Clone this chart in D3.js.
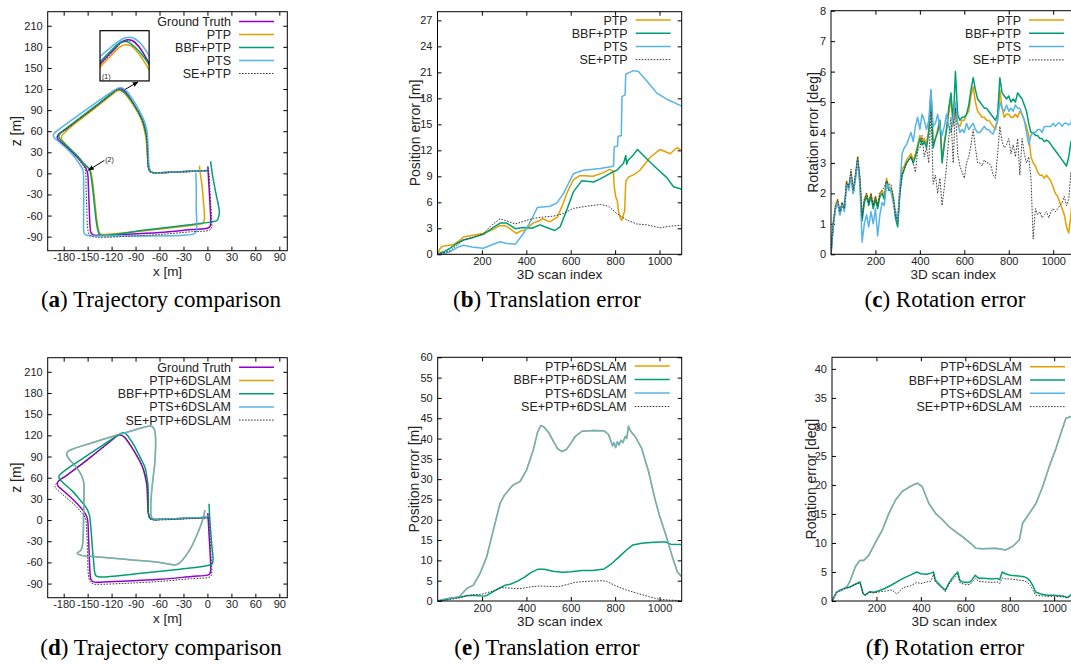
<!DOCTYPE html>
<html>
<head>
<meta charset="utf-8">
<script src="https://cdn.jsdelivr.net/npm/d3@7"></script>
<style>
  body { margin: 0; background: #fff; }
  text { font-family: "Liberation Sans", Arial, Helvetica, sans-serif; fill: #222; }
  .cap { font-family: "Liberation Serif", "Times New Roman", serif; fill: #000; }
</style>
</head>
<body>
<script>
// ---------- data ----------
// trajectories [x, z] in metres
var gtPath = [[1,4],[-20,3],[-40,2],[-60,1],[-68,1],[-72,3],[-74,10],[-75,30],[-76,50],[-78,62],[-81,74],[-85,84],[-90,94],[-96,105],[-100,112],[-104,117.5],[-107,120],[-110,120.5],[-113,119.5],[-118,115],[-125,108.5],[-140,95],[-160,77],[-178,62],[-186,56],[-188,52],[-187,48],[-182,43],[-172,33],[-163,23],[-156,14],[-152,7],[-150,0],[-149,-20],[-148,-50],[-147,-75],[-146,-84],[-143,-87.5],[-135,-88],[-100,-86.5],[-60,-84],[-20,-80],[0,-78],[3,-76],[4,-72],[3.5,-50],[2,-20],[1,0],[0.5,10]];
var ptpPath = [[1,4],[-20,3],[-40,2],[-60,1],[-68,1],[-72,3],[-74,10],[-75.5,30],[-77,50],[-79,62],[-82,74],[-86,84],[-91,94],[-97,104],[-101,110],[-105,115],[-108,117.5],[-111,118],[-114,117],[-119,112.5],[-125,107],[-140,93.5],[-160,76],[-176,61],[-182,54],[-183,50],[-181,46],[-172,35],[-162,24],[-154,13],[-147,5],[-144,-10],[-141,-40],[-138,-70],[-136,-82],[-134,-86.5],[-128,-87],[-90,-83],[-50,-78],[-15,-73],[-6,-71],[-4,-67],[-5,-40],[-7,-15],[-9,0],[-10,11]];
var bbfPath = [[1,4],[-20,3],[-40,2],[-60,1],[-68,1],[-72,3],[-74,10],[-75,30],[-76,50],[-78,62],[-81,74],[-85,84],[-90,94],[-96,105],[-101,112],[-106,117],[-110,119.5],[-114,119],[-119,115],[-125,109.5],[-140,96],[-160,78.5],[-178,63],[-185,56],[-186,52],[-184,48],[-174,37],[-163,25],[-155,14],[-148,6],[-145,-10],[-142,-40],[-139,-70],[-137,-82],[-135,-87],[-128,-88],[-80,-81],[-30,-74],[5,-69],[12,-67],[14,-62],[15,-55],[10,-25],[6,0],[4,17]];
var ptsPath = [[1,4],[-20,3],[-40,2],[-60,1],[-68,1],[-71,3],[-73,10],[-74,30],[-75,50],[-76,62],[-79,74],[-83,84],[-88,95],[-94,106],[-99,114],[-103,119],[-107,121.5],[-111,121.5],[-115,119.5],[-120,116],[-127,110.5],[-145,96],[-165,80],[-183,65],[-191,58],[-193,55],[-192,51],[-187,46],[-176,35],[-167,24],[-160,13],[-156,5],[-155,-20],[-155,-60],[-155,-80],[-154,-86],[-150,-88.5],[-130,-89],[-80,-89],[-30,-88],[-17,-86],[-14,-82],[-14,-50],[-14,-20],[-14.5,1]];
var sePath = [[1,4],[-20,3],[-40,2],[-60,1],[-68,1],[-72,3],[-74,10],[-75,30],[-76,50],[-78,62],[-81,74],[-85,84],[-90,94],[-96,105],[-100,112],[-104,117],[-107,119.5],[-110,120],[-113,119],[-118,114.5],[-125,108],[-140,94.5],[-160,77.5],[-178,62.5],[-186,56.5],[-188,52.5],[-187,48.5],[-183,44],[-172,33],[-162,21.5],[-157,13],[-153,5],[-152,-20],[-151,-50],[-150,-78],[-148,-87],[-144,-90],[-135,-91],[-100,-89.5],[-60,-87],[-20,-83],[2,-81],[5,-78],[5.5,-72],[4.5,-50],[3,-20],[2,0],[1,8]];

var bbf6Path = [[1,4],[-20,3],[-40,2],[-60,1],[-68,1],[-72,3],[-74,10],[-74,30],[-74.5,50],[-76,62],[-78,74],[-82,84],[-87,95],[-92,106],[-97,115],[-101,121],[-104,123.5],[-107,123.5],[-111,121],[-130,107],[-155,88],[-175,73],[-183,66],[-186,62],[-185,58],[-179,51],[-169,41],[-160,29],[-152,18],[-148,8],[-146,-10],[-144,-40],[-142,-65],[-141,-75],[-139,-79.5],[-130,-80.5],[-80,-75],[-30,-69],[2,-64],[6,-62],[7,-57],[5,-30],[3,0],[2,23]];
var pts6Path = [[1,4],[-20,3],[-40,2],[-60,1],[-67,1],[-70,4],[-71,20],[-69,50],[-66,80],[-65,100],[-65,118],[-66,127],[-69,132.5],[-74,133],[-90,128],[-120,118],[-150,107.5],[-170,100],[-175,97],[-176,92],[-173,86],[-165,76],[-158,64],[-155,54],[-154.5,40],[-155,10],[-155.5,-20],[-156.5,-36],[-158.5,-43],[-163,-47],[-158,-50],[-140,-52],[-100,-56],[-60,-60],[-45,-63],[-40,-63.5],[-35,-61],[-28,-52],[-20,-38],[-12,-18],[-6,0],[-3,14]];
var ptp6Path = pts6Path;   // PTP+6DSLAM lies under PTS+6DSLAM
var se6Path = [[1,3],[-20,2],[-40,1],[-60,0],[-68,0],[-72,2],[-74,9],[-74.5,30],[-75.5,50],[-77.5,62],[-80.5,74],[-84.5,84],[-89.5,94],[-95.5,105],[-100,112],[-104,117],[-107,119.5],[-110,120],[-113,119],[-118,114.5],[-125,108],[-140,94],[-160,76.5],[-180,60],[-189,52],[-191,48],[-189,44],[-178,33],[-166,21],[-158,11],[-153,3],[-151,-20],[-150,-50],[-149,-78],[-147,-87],[-143,-90.5],[-135,-91],[-100,-89.5],[-60,-87],[-20,-83],[2,-81],[5,-78],[5.5,-72],[4.5,-50],[3,-20],[2,0],[1,6]];

// translation error [scan index, m]
var ptpTrans = [[0,0],[10,0.6],[20,0.9],[35,1.0],[70,1.1],[100,1.6],[117,2.0],[160,2.2],[205,2.4],[245,2.8],[280,3.3],[305,3.3],[325,3.0],[355,2.4],[375,2.7],[395,2.8],[430,3.6],[460,3.9],[475,4.1],[505,3.75],[540,4.3],[560,5.5],[585,7.2],[612,8.6],[642,9.1],[700,9.0],[745,9.4],[775,9.8],[792,9.6],[796,7.8],[803,6.6],[810,6.2],[815,5.0],[822,4.3],[830,3.9],[838,4.6],[843,5.0],[848,8.4],[860,8.9],[885,9.2],[912,9.7],[958,11.2],[1003,12.1],[1048,11.6],[1078,12.3],[1100,12.0]];
var bbfTrans = [[0,0],[15,0.2],[30,0.3],[57,0.7],[90,1.3],[117,1.65],[162,1.95],[207,2.3],[245,3.0],[282,3.6],[312,3.6],[350,2.95],[387,3.1],[425,3.0],[462,3.4],[500,3.0],[530,2.75],[553,3.2],[582,5.1],[612,7.2],[650,8.5],[703,8.35],[733,8.7],[778,9.35],[808,9.7],[838,10.5],[848,11.4],[852,10.4],[857,10.8],[883,11.5],[901,12.1],[943,11.0],[988,9.9],[1033,8.85],[1063,7.8],[1100,7.5]];
var ptsTrans = [[0,0],[27,0.05],[57,0.3],[90,0.8],[117,1.05],[162,0.8],[207,0.7],[245,1.1],[282,1.45],[312,1.25],[350,1.15],[387,2.4],[425,4.1],[450,5.4],[507,5.55],[537,5.9],[567,7.0],[612,9.3],[657,9.7],[733,9.9],[793,10.15],[796,12.4],[811,12.5],[813,13.6],[828,13.7],[831,18.2],[845,18.4],[848,20.8],[883,21.2],[905,21.1],[943,20.0],[988,18.6],[1033,17.9],[1100,17.1]];
var seTrans = [[0,0],[57,0.4],[117,1.65],[162,2.0],[207,2.4],[245,3.4],[282,4.1],[312,3.85],[350,3.5],[387,3.8],[432,4.15],[477,4.3],[522,4.4],[567,4.7],[612,5.3],[672,5.55],[733,5.75],[770,5.55],[808,4.7],[853,3.95],[898,3.5],[943,3.4],[1003,3.05],[1048,3.25],[1100,3.35]];

// rotation error [deg], one value every 10 scans from scan 0
var ptpRot = [0.0,1.0,1.6,1.8,1.4,1.7,1.5,2.4,2.2,2.7,2.1,2.6,3.2,2.5,1.2,1.8,2.0,1.7,2.0,1.6,1.9,1.6,2.0,2.1,1.9,2.5,2.2,2.2,1.9,1.4,1.0,2.1,2.8,2.9,3.1,3.2,3.3,3.1,3.3,3.6,3.9,3.7,3.8,3.6,4.1,5.4,3.6,3.8,4.1,4.4,3.1,3.7,4.1,4.6,5.1,4.2,4.9,4.3,4.2,4.4,4.4,4.6,4.7,5.2,5.5,5.0,4.7,4.6,4.5,4.5,4.4,4.4,4.3,4.2,4.1,4.4,5.4,4.8,4.5,4.6,4.6,4.5,4.5,4.6,4.5,4.7,4.6,4.4,4.2,3.9,3.2,3.0,2.9,2.7,2.6,2.6,2.5,2.6,2.5,2.4,2.2,2.0,1.9,1.7,1.5,1.3,0.9,0.7,1.3,2.3];
var bbfRot = [0.0,1.0,1.5,1.7,1.3,1.6,1.5,2.3,2.2,2.6,2.0,2.5,3.1,2.4,1.1,1.7,1.9,1.6,1.9,1.5,1.8,1.5,1.9,2.0,1.8,2.4,2.1,2.1,1.8,1.2,0.9,2.0,2.6,2.8,3.0,3.1,3.2,3.0,3.2,3.5,3.8,3.6,3.7,3.5,4.0,5.3,3.5,3.8,4.0,4.4,3.0,3.6,4.1,4.8,5.3,4.3,6.0,4.6,4.4,4.5,4.5,4.6,4.9,5.4,5.8,5.4,5.1,5.0,4.9,4.8,4.8,4.7,4.6,4.5,4.4,4.6,5.8,5.3,5.2,5.1,5.2,5.0,5.1,5.0,5.3,5.2,5.1,4.9,4.7,4.3,4.0,4.0,3.9,3.9,3.8,3.8,3.7,3.75,3.7,3.6,3.5,3.4,3.3,3.2,3.1,3.0,2.9,3.2,3.7,3.8];
var ptsRot = [0.0,0.9,1.5,1.7,1.3,1.7,1.4,2.3,2.1,2.6,2.0,2.5,3.1,2.3,0.4,1.0,1.3,0.9,1.4,1.0,1.5,0.6,1.3,1.7,1.6,2.3,2.2,2.1,1.7,1.4,1.1,2.2,3.3,3.5,3.6,3.8,4.0,3.7,4.2,4.5,4.1,4.6,4.4,4.1,4.4,5.4,4.2,4.3,4.6,4.2,3.9,4.2,4.6,4.2,4.0,4.5,5.0,4.3,4.0,4.1,4.0,4.3,4.1,4.2,4.3,4.1,4.0,4.0,4.1,4.2,4.1,4.1,4.0,3.95,4.2,4.4,5.0,4.8,4.7,4.9,4.7,4.8,4.7,4.9,4.8,4.8,4.6,4.4,4.0,3.6,3.9,4.0,4.0,4.1,4.1,4.0,4.2,4.2,4.2,4.2,4.3,4.2,4.3,4.3,4.2,4.3,4.3,4.25,4.3,4.8];
var seRot = [0.0,1.0,1.6,1.8,1.4,1.7,1.5,2.4,2.2,2.8,2.1,2.6,3.2,2.5,1.2,1.8,2.0,1.7,2.0,1.6,1.9,1.6,2.0,2.1,2.2,2.4,2.3,2.3,1.9,1.3,1.1,2.0,2.6,2.8,3.0,3.1,3.2,3.0,2.7,3.4,3.5,3.9,3.2,3.5,3.0,4.7,2.3,2.6,2.0,2.5,1.6,2.2,2.9,3.8,4.5,3.0,4.8,3.3,2.9,2.7,2.5,3.0,3.2,3.6,4.1,3.5,3.0,3.0,2.9,3.1,3.0,3.0,2.9,2.6,2.5,3.3,4.2,3.7,3.5,3.6,3.8,3.3,3.6,3.2,3.8,2.6,3.8,3.3,3.0,3.2,2.5,0.5,1.5,1.3,1.4,1.2,1.3,1.4,1.2,1.4,1.5,1.4,1.5,1.6,1.7,1.9,1.6,1.8,2.7,1.7];
var rotIndex = d3.range(0, 1100, 10);

// translation error with 6D SLAM [scan index, m]
var pts6Trans = [[0,0],[26,0.4],[56,0.7],[86,0.9],[100,1.2],[131,3.1],[161,3.9],[191,6.8],[221,10.9],[251,17.5],[281,24],[300,26],[320,27.3],[341,28.6],[371,29.4],[401,32.3],[431,37.2],[450,41.5],[465,43.2],[480,42.8],[500,41.5],[520,39.5],[540,37.5],[560,36.8],[580,37.3],[600,38.8],[620,40.5],[650,41.8],[700,42],[750,41.9],[770,41],[780,39.5],[788,38.2],[795,39],[802,37.8],[810,39.2],[818,38.4],[826,39.6],[835,39],[845,40.5],[852,40],[860,43],[870,41.8],[890,40.5],[920,37.5],[950,32],[980,25],[1000,21],[1030,16],[1060,10.5],[1080,7.2],[1100,6]];
var ptp6Trans = pts6Trans;
var bbf6Trans = [[0,0],[30,0.3],[60,0.7],[100,0.9],[130,1.3],[160,1.4],[200,1.2],[220,1.3],[250,2.3],[280,3.2],[300,3.8],[330,4.2],[360,4.9],[390,5.8],[420,7.0],[450,7.8],[480,7.8],[520,7.3],[560,7.1],[600,7.2],[650,7.5],[700,7.5],[750,7.9],[780,9.0],[820,11.0],[850,12.5],[880,13.8],[920,14.2],[960,14.4],[1000,14.5],[1030,14.5],[1050,14.0],[1100,13.9]];
var se6Trans = [[0,0],[50,0.3],[100,0.8],[130,1.3],[160,1.5],[200,1.7],[240,2.3],[280,3.2],[300,3.3],[340,3.1],[380,3.1],[420,3.5],[460,3.7],[500,3.6],[540,3.5],[580,4.0],[620,4.6],[660,4.8],[700,4.9],[740,5.0],[760,4.9],[800,3.8],[850,2.7],[900,1.9],[950,1.1],[1000,0.4],[1050,0.2],[1100,0.1]];

// rotation error with 6D SLAM [scan index, deg]
var pts6Rot = [[0,0],[23,1.6],[45,1.9],[68,2.5],[83,3.6],[105,5.9],[125,7.0],[143,7.0],[166,7.9],[196,10.1],[226,12.2],[256,15.1],[286,17.4],[316,18.9],[346,19.6],[370,20.1],[384,20.3],[406,19.7],[436,16.8],[466,15.1],[497,14.0],[527,12.8],[557,11.9],[587,11.1],[625,9.9],[647,9.1],[677,9.0],[737,9.1],[783,8.8],[813,9.4],[843,10.5],[858,13.4],[888,15.1],[918,16.8],[948,19.7],[978,23.2],[1008,26.3],[1038,29.8],[1053,31.5],[1076,31.8],[1100,31.8]];
var ptp6Rot = pts6Rot;
var bbf6Rot = [[0,0],[20,1.5],[36,1.85],[60,2.2],[81,2.4],[100,2.8],[126,3.3],[140,1.3],[149,1.0],[170,1.6],[190,1.5],[217,1.85],[240,2.2],[270,2.8],[292,3.3],[320,3.9],[352,4.45],[382,5.0],[400,4.7],[427,4.6],[445,4.8],[457,5.0],[465,3.6],[472,3.3],[490,2.6],[510,1.85],[525,3.0],[540,3.9],[556,4.6],[566,5.0],[575,3.6],[585,3.3],[610,3.2],[623,3.3],[645,4.45],[660,3.9],[683,3.9],[720,3.8],[743,3.9],[755,3.7],[766,5.0],[780,4.7],[803,4.45],[840,4.3],[864,4.2],[880,3.9],[894,3.3],[906,2.5],[916,1.55],[940,1.2],[969,1.0],[1000,1.0],[1044,0.8],[1060,0.6],[1074,1.0],[1090,1.4]];
var se6Rot = [[0,0],[20,1.5],[36,1.8],[60,2.2],[81,2.4],[100,2.8],[126,3.1],[140,1.3],[149,1.0],[170,1.5],[190,1.4],[217,1.6],[240,1.7],[270,1.9],[292,1.2],[320,2.3],[352,2.6],[382,3.2],[400,3.0],[427,3.3],[445,3.4],[457,4.6],[465,3.3],[472,3.0],[490,2.4],[510,1.6],[525,2.8],[540,3.5],[556,4.2],[566,4.6],[575,3.2],[585,3.0],[610,2.8],[623,2.9],[645,3.9],[660,3.4],[683,3.3],[720,3.2],[743,3.3],[755,3.0],[766,4.0],[780,3.8],[803,3.8],[840,3.6],[864,3.5],[880,3.2],[894,2.6],[906,1.8],[916,1.0],[940,0.9],[969,0.8],[1000,0.8],[1044,0.7],[1060,0.5],[1074,0.9],[1090,1.2]];

// legends, ticks, captions
var legTrajTop = ["Ground Truth", "PTP", "BBF+PTP", "PTS", "SE+PTP"];
var legErrTop = ["PTP", "BBF+PTP", "PTS", "SE+PTP"];
var legTrajBot = ["Ground Truth", "PTP+6DSLAM", "BBF+PTP+6DSLAM", "PTS+6DSLAM", "SE+PTP+6DSLAM"];
var legErrBot = ["PTP+6DSLAM", "BBF+PTP+6DSLAM", "PTS+6DSLAM", "SE+PTP+6DSLAM"];
var trajXTicks = [-180,-150,-120,-90,-60,-30,0,30,60,90];
var trajZTicks = [-90,-60,-30,0,30,60,90,120,150,180,210];
var scanTicks = [200,400,600,800,1000];
var captions = [["a","Trajectory comparison"],["b","Translation error"],["c","Rotation error"],
                ["d","Trajectory comparison"],["e","Translation error"],["f","Rotation error"]];

// ---------- styles ----------
var st = {
  gt:  {color: "#9400d3", w: 1.5},
  ptp: {color: "#e69f00", w: 1.5},
  bbf: {color: "#009e73", w: 1.5},
  pts: {color: "#56b4e9", w: 1.5},
  se:  {color: "#3a3a3a", w: 1, dash: "1.6,1.4"}
};

var svg = d3.select("body").append("svg").attr("width", 1071).attr("height", 664);

svg.append("defs").append("marker")
    .attr("id", "arrow").attr("viewBox", "0 0 10 10")
    .attr("refX", 9).attr("refY", 5).attr("markerWidth", 6).attr("markerHeight", 6)
    .attr("orient", "auto")
  .append("path").attr("d", "M0,1L10,5L0,9z").attr("fill", "#000");

var nPanel = 0;
function makePanel(box, xDom, yDom, xTicks, yTicks) {
  var id = "clip" + (nPanel++);
  var x = d3.scaleLinear().domain(xDom).range([box.x0, box.x1]);
  var y = d3.scaleLinear().domain(yDom).range([box.y1, box.y0]);
  var g = svg.append("g");
  svg.select("defs").append("clipPath").attr("id", id).append("rect")
      .attr("x", box.x0).attr("y", box.y0)
      .attr("width", box.x1 - box.x0).attr("height", box.y1 - box.y0);
  var fmt = function(d) { return String(d); };
  g.append("g").attr("transform", "translate(0," + box.y1 + ")")
      .call(d3.axisBottom(x).tickValues(xTicks).tickSize(-4).tickPadding(3).tickFormat(fmt));
  g.append("g").attr("transform", "translate(0," + box.y0 + ")")
      .call(d3.axisTop(x).tickValues(xTicks).tickSize(-4).tickFormat(""));
  g.append("g").attr("transform", "translate(" + box.x0 + ",0)")
      .call(d3.axisLeft(y).tickValues(yTicks).tickSize(-4).tickPadding(5).tickFormat(fmt));
  g.append("g").attr("transform", "translate(" + box.x1 + ",0)")
      .call(d3.axisRight(y).tickValues(yTicks).tickSize(-4).tickFormat(""));
  g.selectAll(".domain").remove();
  g.selectAll("g").attr("font-family", null).attr("font-size", null);
  g.selectAll(".tick line").attr("stroke", "#000");
  g.selectAll(".tick text").attr("font-size", 11).attr("fill", "#222");
  var plot = g.append("g").attr("clip-path", "url(#" + id + ")");
  var frame = g.append("rect").attr("x", box.x0).attr("y", box.y0)
      .attr("width", box.x1 - box.x0).attr("height", box.y1 - box.y0)
      .attr("fill", "none").attr("stroke", "#000").attr("stroke-width", 1);
  return {x: x, y: y, g: g, plot: plot, box: box, frame: frame};
}

function drawLine(p, data, s, opacity, smooth) {
  var line = d3.line().x(function(d) { return p.x(d[0]); }).y(function(d) { return p.y(d[1]); });
  if (smooth) line.curve(d3.curveCatmullRom.alpha(0.5));
  p.plot.append("path").datum(data)
      .attr("fill", "none").attr("stroke", s.color).attr("stroke-width", s.w)
      .attr("stroke-dasharray", s.dash || null).attr("stroke-opacity", opacity || 1)
      .attr("stroke-linejoin", "round")
      .attr("d", line);
}

function legend(p, xt, yTop, step, labels, styles) {
  labels.forEach(function(l, i) {
    var yy = yTop + i * step;
    p.g.append("text").attr("x", xt).attr("y", yy).attr("dy", "0.36em")
        .attr("text-anchor", "end").attr("font-size", 12.5).text(l);
    p.g.append("line").attr("x1", xt + 8).attr("x2", xt + 43).attr("y1", yy).attr("y2", yy)
        .attr("stroke", styles[i].color).attr("stroke-width", styles[i].w)
        .attr("stroke-dasharray", styles[i].dash || null);
  });
}

function axisTitles(p, xLabel, xLabelY, yLabel, yLabelX) {
  var b = p.box;
  p.g.append("text").attr("x", (b.x0 + b.x1) / 2).attr("y", xLabelY)
      .attr("text-anchor", "middle").attr("font-size", 13.5).text(xLabel);
  p.g.append("text").attr("transform", "translate(" + yLabelX + "," + (b.y0 + b.y1) / 2 + ") rotate(-90)")
      .attr("dy", "0.35em").attr("text-anchor", "middle").attr("font-size", 14).text(yLabel);
}

var trajStyles = [st.gt, st.ptp, st.bbf, st.pts, st.se];
var errStyles = [st.ptp, st.bbf, st.pts, st.se];

// ---------- (a) trajectory comparison ----------
var pa = makePanel({x0: 47.7, x1: 287.3, y0: 11.7, y1: 250.7}, [-200, 100], [-110, 230], trajXTicks, trajZTicks);
[gtPath, ptpPath, bbfPath, ptsPath, sePath].forEach(function(d, i) { drawLine(pa, d, trajStyles[i], 1, true); });
axisTitles(pa, "x [m]", 276, "z [m]", 16);
legend(pa, 231, 21.5, 13, legTrajTop, trajStyles);

// zoom box (1) at the top of the loop
var ib = {x0: pa.x(-134.5), x1: pa.x(-73), y0: pa.y(203), y1: pa.y(131.5)};
var inset = {
  x: d3.scaleLinear().domain([-125, -98]).range([ib.x0, ib.x1]),
  y: d3.scaleLinear().domain([100, 125]).range([ib.y1, ib.y0]),
  g: pa.g
};
svg.select("defs").append("clipPath").attr("id", "clipInset").append("rect")
    .attr("x", ib.x0).attr("y", ib.y0).attr("width", ib.x1 - ib.x0).attr("height", ib.y1 - ib.y0);
pa.g.append("rect").attr("x", ib.x0).attr("y", ib.y0).attr("width", ib.x1 - ib.x0).attr("height", ib.y1 - ib.y0)
    .attr("fill", "#fff");
inset.plot = pa.g.append("g").attr("clip-path", "url(#clipInset)");
[gtPath, ptpPath, bbfPath, ptsPath, sePath].forEach(function(d, i) { drawLine(inset, d, trajStyles[i], 1, true); });
pa.g.append("rect").attr("x", ib.x0).attr("y", ib.y0).attr("width", ib.x1 - ib.x0).attr("height", ib.y1 - ib.y0)
    .attr("fill", "none").attr("stroke", "#000").attr("stroke-width", 1.2);
pa.g.append("text").attr("x", ib.x0 + 2).attr("y", ib.y1 - 2).attr("font-size", 7).text("(1)");
pa.g.append("line").attr("x1", pa.x(-103)).attr("y1", pa.y(119.5)).attr("x2", pa.x(-87)).attr("y2", pa.y(130))
    .attr("stroke", "#000").attr("stroke-width", 1).attr("marker-end", "url(#arrow)");
pa.g.append("line").attr("x1", pa.x(-129)).attr("y1", pa.y(18.5)).attr("x2", pa.x(-149)).attr("y2", pa.y(4.5))
    .attr("stroke", "#000").attr("stroke-width", 1).attr("marker-end", "url(#arrow)");
pa.g.append("text").attr("x", pa.x(-128)).attr("y", pa.y(19)).attr("dy", "0.3em").attr("font-size", 7).text("(2)");
pa.frame.raise();

// ---------- (b) translation error ----------
var pb = makePanel({x0: 437.5, x1: 681.7, y0: 11.7, y1: 254.3}, [0, 1100], [0, 28], scanTicks, d3.range(0, 28, 3));
[ptpTrans, bbfTrans, ptsTrans, seTrans].forEach(function(d, i) { drawLine(pb, d, errStyles[i]); });
axisTitles(pb, "3D scan index", 279, "Position error [m]", 415);
legend(pb, 627.7, 20, 13.2, legErrTop, errStyles);

// ---------- (c) rotation error ----------
var pc = makePanel({x0: 831, x1: 1075.4, y0: 10.7, y1: 254.3}, [0, 1100], [0, 8], scanTicks, d3.range(0, 9, 1));
[ptpRot, bbfRot, ptsRot, seRot].forEach(function(vals, i) {
  drawLine(pc, vals.map(function(v, k) { return [rotIndex[k], v]; }), errStyles[i]);
});
axisTitles(pc, "3D scan index", 279, "Rotation error [deg]", 813);
legend(pc, 1021, 20, 13.3, legErrTop, errStyles);

// ---------- (d) trajectory comparison with 6D SLAM ----------
var pd = makePanel({x0: 47.7, x1: 287.3, y0: 357.7, y1: 597.7}, [-200, 100], [-110, 230], trajXTicks, trajZTicks);
drawLine(pd, gtPath, st.gt, 1, true);
drawLine(pd, ptp6Path, st.ptp, 1, true);
drawLine(pd, bbf6Path, st.bbf, 1, true);
drawLine(pd, pts6Path, st.pts, 0.85, true);
drawLine(pd, se6Path, st.se, 1, true);
axisTitles(pd, "x [m]", 623, "z [m]", 16);
legend(pd, 231, 367.3, 13.2, legTrajBot, trajStyles);

// ---------- (e) translation error with 6D SLAM ----------
var pe = makePanel({x0: 437.7, x1: 681.7, y0: 357.3, y1: 601}, [0, 1100], [0, 60], scanTicks, d3.range(0, 61, 5));
drawLine(pe, ptp6Trans, st.ptp);
drawLine(pe, bbf6Trans, st.bbf);
drawLine(pe, pts6Trans, st.pts, 0.85);
drawLine(pe, se6Trans, st.se);
axisTitles(pe, "3D scan index", 626, "Position error [m]", 414);
legend(pe, 626.7, 366, 13.5, legErrBot, errStyles);

// ---------- (f) rotation error with 6D SLAM ----------
var pf = makePanel({x0: 832, x1: 1076.4, y0: 357.3, y1: 601}, [0, 1100], [0, 42], scanTicks, d3.range(0, 41, 5));
drawLine(pf, ptp6Rot, st.ptp);
drawLine(pf, bbf6Rot, st.bbf);
drawLine(pf, pts6Rot, st.pts, 0.85);
drawLine(pf, se6Rot, st.se);
axisTitles(pf, "3D scan index", 626, "Rotation error [deg]", 811);
legend(pf, 1022, 366.7, 13.3, legErrBot, errStyles);

// ---------- captions ----------
var capX = [161, 547, 945];
captions.forEach(function(c, i) {
  var t = svg.append("text").attr("class", "cap")
      .attr("x", capX[i % 3]).attr("y", i < 3 ? 307 : 655)
      .attr("text-anchor", "middle").attr("font-size", 23);
  t.append("tspan").text("(");
  t.append("tspan").attr("font-weight", "bold").text(c[0]);
  t.append("tspan").text(") " + c[1]);
});
</script>
</body>
</html>
